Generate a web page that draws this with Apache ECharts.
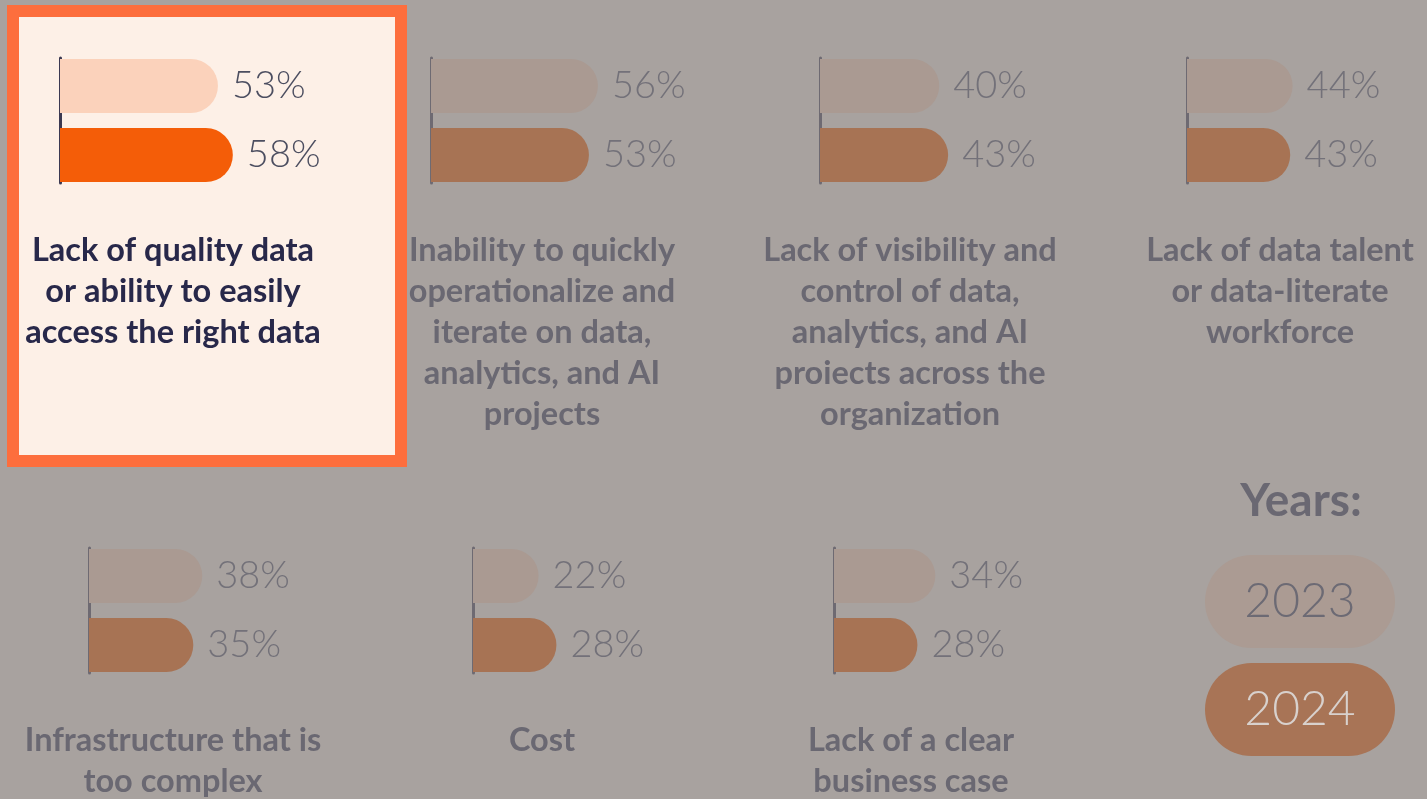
<!DOCTYPE html>
<html>
<head>
<meta charset="utf-8">
<script src="https://cdn.jsdelivr.net/npm/echarts@6/dist/echarts.min.js"></script>
<style>
html,body{margin:0;padding:0;}
#chart-con{width:1427px;height:799px;}
</style>
</head>
<body>
<div id="chart-con"></div>
<script>
// data
var categories = [
    'Lack of quality data\nor ability to easily\naccess the right data',
    'Inability to quickly\noperationalize and\niterate on data,\nanalytics, and AI\nprojects',
    'Lack of visibility and\ncontrol of data,\nanalytics, and AI\nproiects across the\norganization',
    'Lack of data talent\nor data-literate\nworkforce',
    'Infrastructure that is\ntoo complex',
    'Cost',
    'Lack of a clear\nbusiness case'
];
var years = ['2023', '2024'];
var values2023 = [53, 56, 40, 44, 38, 22, 34];
var values2024 = [58, 53, 43, 43, 35, 28, 28];

// panel positions (axis left, grid top, title centre x, title top)
var panels = [
    {left: 60, top: 58, cx: 173, ty: 230},
    {left: 431, top: 58, cx: 542, ty: 230},
    {left: 820, top: 58, cx: 910, ty: 230},
    {left: 1187, top: 58, cx: 1280, ty: 230},
    {left: 89, top: 548, cx: 173, ty: 720},
    {left: 473, top: 548, cx: 542, ty: 720},
    {left: 834, top: 548, cx: 911, ty: 720}
];
var activeIndex = 0;

var dimColors = {c2023: '#aa9a92', c2024: '#a77354', axis: '#6e6a72', title: '#6a6872', label: '#737179'};
var hiColors = {c2023: '#fbd2bb', c2024: '#f45d08', axis: '#3b3952', title: '#28284a', label: '#4c4e60'};

var dom = document.getElementById('chart-con');
var myChart = echarts.init(dom);

var grids = [], xAxes = [], yAxes = [], titles = [], series = [];
for (var i = 0; i < categories.length; i++) {
    var p = panels[i];
    var col = i === activeIndex ? hiColors : dimColors;
    grids.push({left: p.left, top: p.top, width: 298, height: 125, containLabel: false});
    xAxes.push({type: 'value', gridIndex: i, min: 0, max: 100, show: false});
    yAxes.push({
        type: 'category', gridIndex: i, data: [categories[i]], inverse: true,
        axisLine: {show: true, lineStyle: {color: col.axis, width: 3}},
        axisTick: {show: false}, axisLabel: {show: false}, splitLine: {show: false}
    });
    titles.push({
        text: categories[i], left: p.cx, top: p.ty, textAlign: 'center', padding: 0,
        textStyle: {fontFamily: 'Lato', fontWeight: 'bold', fontSize: 32.5, lineHeight: 41, color: col.title}
    });
    var vals = [values2023[i], values2024[i]];
    for (var k = 0; k < years.length; k++) {
        series.push({
            name: years[k], type: 'bar', xAxisIndex: i, yAxisIndex: i,
            data: [vals[k]], barWidth: 54, barGap: '28%',
            itemStyle: {color: k === 0 ? col.c2023 : col.c2024, borderRadius: [0, 27, 27, 0]},
            label: {
                show: true, position: 'right', distance: 14, formatter: '{c}%',
                fontFamily: 'Lato', fontWeight: 300, fontSize: 38, color: col.label
            },
            emphasis: {disabled: true}
        });
    }
}

titles.push({
    text: 'Years:', left: 1301, top: 478, textAlign: 'center', padding: 0,
    textStyle: {fontFamily: 'Lato', fontWeight: 'bold', fontSize: 46, color: '#6a6872'}
});

var pill = {width: 190, height: 93, lineHeight: 93, align: 'center', borderRadius: 46.5,
    fontFamily: 'Lato', fontWeight: 300, fontSize: 48};

var option = {
    backgroundColor: '#a8a29f',
    animation: false,
    title: titles,
    grid: grids,
    xAxis: xAxes,
    yAxis: yAxes,
    legend: {
        orient: 'vertical', left: 1200, top: 555, itemGap: 15, padding: 0,
        icon: 'none', itemWidth: 0, itemHeight: 0,
        data: years,
        formatter: function (name) {
            return '{p' + name + '|' + name + '}';
        },
        textStyle: {
            rich: {
                p2023: Object.assign({backgroundColor: '#ab9b93', color: '#6c6a74'}, pill),
                p2024: Object.assign({backgroundColor: '#a87456', color: '#d8d1cd'}, pill)
            }
        }
    },
    // highlighted panel frame
    graphic: [{
        type: 'rect', z: -1, silent: true,
        shape: {x: 13, y: 11, width: 388, height: 450},
        style: {fill: '#fdf0e7', stroke: '#fd6e3d', lineWidth: 12}
    }],
    series: series
};

if (option && typeof option === 'object') {
    myChart.setOption(option);
}
</script>
</body>
</html>
